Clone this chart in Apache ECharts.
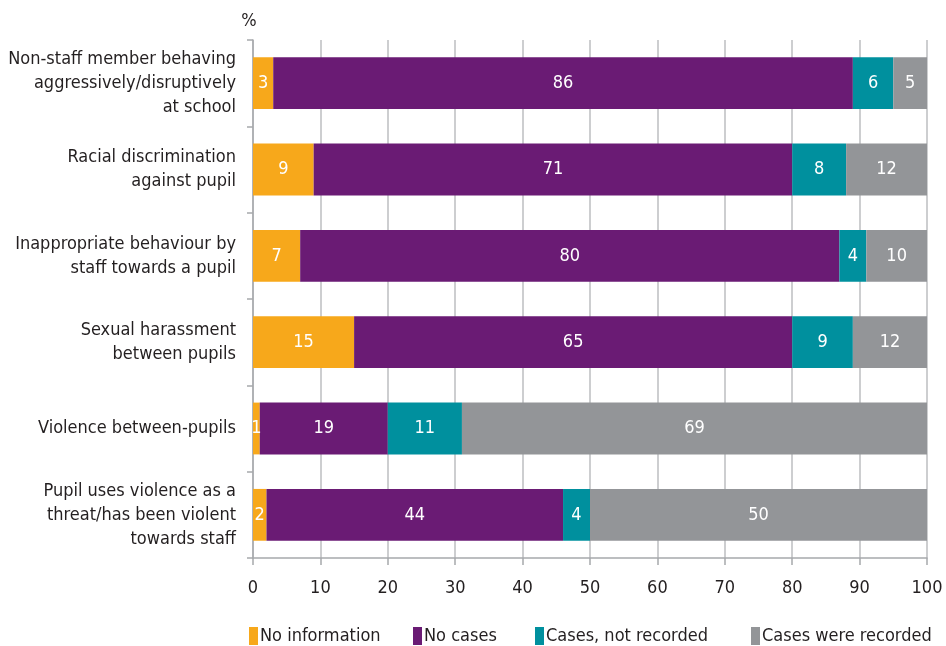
<!DOCTYPE html>
<html><head><meta charset="utf-8">
<script src="https://cdn.jsdelivr.net/npm/echarts@6/dist/echarts.min.js"></script>
<style>html,body{margin:0;padding:0;background:#fff}#c{width:946px;height:646px}</style>
</head><body><div id="c"></div>
<script>
const categories = [
  "Non-staff member behaving\naggressively/disruptively\nat school",
  "Racial discrimination\nagainst pupil",
  "Inappropriate behaviour by\nstaff towards a pupil",
  "Sexual harassment\nbetween pupils",
  "Violence between-pupils",
  "Pupil uses violence as a\nthreat/has been violent\ntowards staff"
];
const seriesNames = ["No information", "No cases", "Cases, not recorded", "Cases were recorded"];
const noInformation = [3, 9, 7, 15, 1, 2];
const noCases = [86, 71, 80, 65, 19, 44];
const casesNotRecorded = [6, 8, 4, 9, 11, 4];
const casesRecorded = [5, 12, 10, 12, 69, 50];
const xTicks = [0, 10, 20, 30, 40, 50, 60, 70, 80, 90, 100];

const FONT = "'Liberation Sans Narrow', 'DejaVu Sans Condensed', 'Noto Sans', sans-serif";
const colors = ["#F7A81B", "#6A1B74", "#00909E", "#939598"];
const values = [noInformation, noCases, casesNotRecorded, casesRecorded];

const chart = echarts.init(document.getElementById('c'), null, {renderer: 'canvas'});
const legendLefts = [249, 413, 535, 751];
chart.setOption({
  animation: false,
  textStyle: {fontFamily: FONT},
  grid: {left: 253, right: 19, top: 40, bottom: 88, containLabel: false, outerBoundsMode: 'none'},
  legend: seriesNames.map((n, i) => ({
    data: [n], left: legendLefts[i], top: 627, icon: 'rect', itemWidth: 9, itemHeight: 18, itemGap: 4, padding: 0,
    textStyle: {fontFamily: FONT, fontSize: 18, color: '#231F20', padding: [0, 0, 0, -3]}
  })),
  xAxis: {
    type: 'value', min: 0, max: 100, interval: 10,
    axisLine: {show: true, lineStyle: {color: '#A7A9AC', width: 1.5}},
    axisTick: {show: true, length: 7, lineStyle: {color: '#A7A9AC', width: 1.5}},
    splitLine: {show: true, lineStyle: {color: '#BCBEC0', width: 1.5}},
    axisLabel: {fontFamily: FONT, fontSize: 18, color: '#231F20', margin: 21,
      formatter: v => xTicks.includes(v) ? String(v) : ''}
  },
  yAxis: {
    type: 'category', data: categories, inverse: true,
    name: '%', nameLocation: 'start', nameGap: 10,
    nameTextStyle: {fontFamily: FONT, fontSize: 18, color: '#231F20', align: 'center', padding: [0, 0, 0, -8]},
    axisLine: {show: true, lineStyle: {color: '#A7A9AC', width: 1.5}},
    axisTick: {show: true, inside: false, length: 6, alignWithLabel: false, lineStyle: {color: '#A7A9AC', width: 1.5}},
    axisLabel: {fontFamily: FONT, fontSize: 18, color: '#231F20', lineHeight: 24, margin: 17, align: 'right'}
  },
  series: seriesNames.map((n, i) => ({
    name: n, type: 'bar', stack: 'total', barWidth: '60%', clip: true,
    itemStyle: {color: colors[i]},
    label: {show: true, position: 'inside', color: '#fff', fontFamily: FONT, fontSize: 18},
    data: values[i]
  }))
});
</script></body></html>
